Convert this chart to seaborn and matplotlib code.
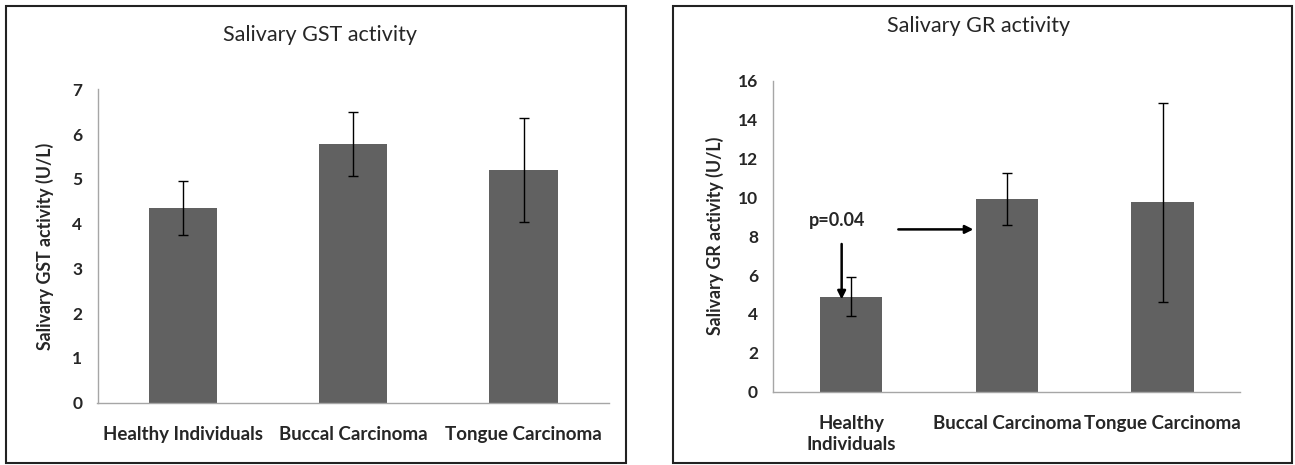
import numpy as np
import matplotlib
matplotlib.use("Agg")
import matplotlib.pyplot as plt
from matplotlib.patches import Rectangle
import seaborn as sns

# Group names and tick labels
categories = ["Healthy Individuals", "Buccal Carcinoma", "Tongue Carcinoma"]
gr_tick_labels = ["Healthy\nIndividuals", "Buccal Carcinoma", "Tongue Carcinoma"]

# Salivary GST activity (U/L): mean and SD
gst_mean = [4.35, 5.78, 5.20]
gst_sd = [0.61, 0.72, 1.17]

# Salivary GR activity (U/L): mean and SD
gr_mean = [4.89, 9.91, 9.74]
gr_sd = [1.01, 1.35, 5.12]

sns.set_style("white")
plt.rcParams["font.family"] = ["Lato", "DejaVu Sans"]

W, H = 1295, 465
fig = plt.figure(figsize=(W / 100, H / 100), dpi=100)

BAR = "#616161"
AXC = "#a6a6a6"


def px_axes(x0, x1, ytop, ybot):
    return fig.add_axes([x0 / W, 1 - ybot / H, (x1 - x0) / W, (ybot - ytop) / H])


def frame(x0, y0, x1, y1):
    fig.patches.append(Rectangle((x0 / W, 1 - y1 / H), (x1 - x0) / W, (y1 - y0) / H,
                                 transform=fig.transFigure, fill=False,
                                 edgecolor="#222222", linewidth=1.5, zorder=0))


def style_axes(ax, ymax, step, labels):
    ax.set_xlim(-0.5, len(labels) - 0.5)
    ax.set_ylim(0, ymax)
    ax.set_yticks(np.arange(0, ymax + 0.01, step))
    ax.set_xticks(range(len(labels)))
    ax.set_xticklabels(labels, fontweight="bold", fontsize=13.5, va="top",
                       linespacing=1.3)
    ax.set_xticks(np.arange(-0.5, len(labels), 1.0), minor=True)
    ax.tick_params(axis="x", which="major", length=0, pad=16.5)
    ax.tick_params(axis="x", which="minor", length=6, color=AXC, width=1, direction="out")
    ax.tick_params(axis="y", length=5, color=AXC, width=1, direction="out", pad=6,
                   labelsize=12.5)
    for t in ax.get_yticklabels():
        t.set_fontweight("bold")
    for s in ("top", "right"):
        ax.spines[s].set_visible(False)
    for s in ("left", "bottom"):
        ax.spines[s].set_color(AXC)
        ax.spines[s].set_linewidth(1)
    ax.set_xlabel("")


def draw_panel(ax, means, sds, labels, ymax, step, ylabel):
    sns.barplot(x=labels, y=means, color=BAR, saturation=1, width=0.4,
                errorbar=None, linewidth=0, ax=ax)
    ax.errorbar(np.arange(len(means)), means, yerr=sds, fmt="none",
                ecolor="black", elinewidth=1, capsize=3.5, capthick=1, zorder=3)
    style_axes(ax, ymax, step, labels)
    ax.set_ylabel(ylabel, fontweight="bold", fontsize=12.8)


# Left panel: GST
frame(5.7, 6, 625.7, 462.5)
ax1 = px_axes(97.5, 608.7, 89.3, 402.7)
draw_panel(ax1, gst_mean, gst_sd, categories, 7, 1, "Salivary GST activity (U/L)")
ax1.yaxis.set_label_coords(-0.085, 0.50)
fig.text(320 / W, 1 - 35 / H, "Salivary GST activity", ha="center", va="center",
         fontsize=15.5)

# Right panel: GR
frame(672.7, 6, 1292, 462.5)
ax2 = px_axes(773.3, 1240.4, 80.7, 391.7)
draw_panel(ax2, gr_mean, gr_sd, gr_tick_labels, 16, 2, "Salivary GR activity (U/L)")
ax2.yaxis.set_label_coords(-0.105, 0.50)
fig.text(979 / W, 1 - 26 / H, "Salivary GR activity", ha="center", va="center",
         fontsize=15.5)

# Significance marker between healthy and buccal groups
ax2.text(-0.09, 8.8, "p=0.04", ha="center", va="center", fontweight="bold",
         fontsize=13)
ax2.annotate("", xy=(-0.061, 4.75), xytext=(-0.061, 7.6),
             arrowprops=dict(arrowstyle="-|>", lw=1.8, color="black",
                             mutation_scale=12, shrinkA=0, shrinkB=0))
ax2.annotate("", xy=(0.785, 8.35), xytext=(0.303, 8.35),
             arrowprops=dict(arrowstyle="-|>", lw=1.8, color="black",
                             mutation_scale=12, shrinkA=0, shrinkB=0))

fig.savefig("out.png", dpi=100, facecolor="white")
